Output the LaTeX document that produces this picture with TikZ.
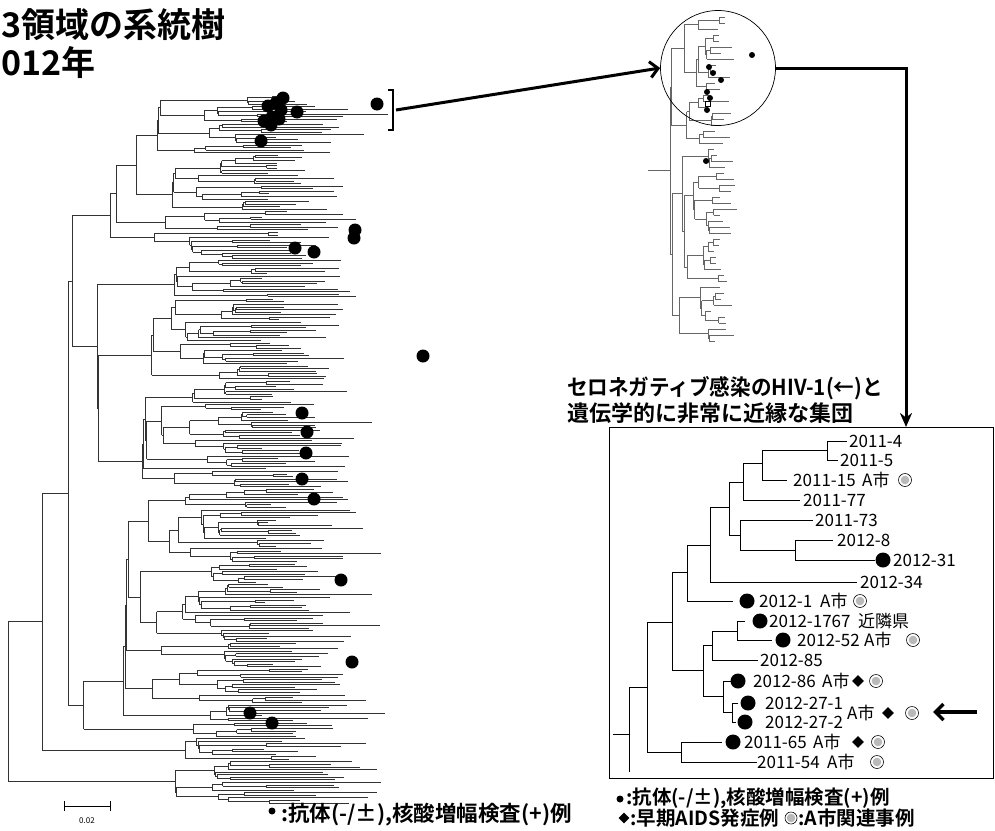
\documentclass[tikz,border=0pt]{standalone}
\usepackage{fontspec}
\setmainfont{Noto Sans CJK JP}[BoldFont={Noto Sans CJK JP Bold}]
\usetikzlibrary{arrows.meta,shapes.geometric}

\def\tcol{black!80}\def\tlw{0.42pt}
\def\ytop{96}\def\ystep{2.57}
\def\tipbase{255}\def\tipspread{90}\def\tipextra{50}\def\minleaf{10}
\def\xref{272}\def\clog{38}\def\noise{56}

\def\tnode#1#2#3{%
  \begingroup
  \ifnum#1=#2\relax
    \pgfmathsetmacro\ly{\ytop+#1*\ystep}%
    \pgfmathsetmacro\lx{max(#3+\minleaf,\tipbase+\tipspread*rnd+\tipextra*pow(rnd,4))}%
    \draw[treeline] (#3,\ly) -- (\lx,\ly);%
    \xdef\retY{\ly}%
  \else
    \pgfmathsetmacro\nx{max(#3+1.5,\xref-\clog*ln(#2-#1+1)+\noise*(rnd-0.5))}%
    \pgfmathtruncatemacro\spl{min(#2-1,#1+floor(rnd*(#2-#1)))}%
    \pgfmathtruncatemacro\splp{\spl+1}%
    \edef\tnnext{\noexpand\tnode{#1}{\spl}{\nx}}\tnnext
    \let\ya\retY
    \edef\tnnext{\noexpand\tnode{\splp}{#2}{\nx}}\tnnext
    \let\yb\retY
    \draw[treeline] (\nx,\ya) -- (\nx,\yb);%
    \pgfmathsetmacro\my{(\ya+\yb)/2}%
    \draw[treeline] (#3,\my) -- (\nx,\my);%
    \xdef\retY{\my}%
  \fi
  \endgroup}

\def\tpair#1#2#3#4{%
  \begingroup
  #3\let\ya\retY
  #4\let\yb\retY
  \draw[treeline] (#2,\ya) -- (#2,\yb);%
  \pgfmathsetmacro\my{(\ya+\yb)/2}%
  \draw[treeline] (#1,\my) -- (#2,\my);%
  \xdef\retY{\my}%
  \endgroup}

\def\tstem#1#2#3{\begingroup #3\draw[treeline] (#1,\retY) -- (#2,\retY);\endgroup}

\begin{document}
\begin{tikzpicture}[x=1pt,y=-1pt,
  treeline/.style={line width=\tlw,draw=\tcol},
  itree/.style={line width=0.8pt,draw=black},
  bigdot/.style={circle,fill=black,inner sep=0pt,minimum size=13pt},
  smalldot/.style={circle,fill=black,inner sep=0pt,minimum size=6pt},
  insetdot/.style={circle,fill=black,inner sep=0pt,minimum size=15pt},
  ring/.style={circle,draw=black,line width=0.6pt,fill=white,inner sep=0pt,minimum size=13pt,
    path picture={\fill[gray!55] (path picture bounding box.center) circle (4.3pt);}},
  diam/.style={diamond,fill=black,inner sep=0pt,minimum size=12pt},
  lab/.style={anchor=west,inner sep=0pt,font=\fontsize{17}{20}\selectfont},
  legend/.style={anchor=west,inner sep=0pt,font=\bfseries\fontsize{19.5}{22}\selectfont},
  thick arrow/.style={line width=3pt,draw=black}]
\useasboundingbox[fill=white] (0,0) rectangle (995,830);

% ---------- title ----------
\node[anchor=west,inner sep=0pt,font=\bfseries\fontsize{34}{38}\selectfont] (title1) at (1,25) {3領域の系統樹};
\node[anchor=west,inner sep=0pt,font=\bfseries\fontsize{34}{38}\selectfont] (title2) at (1,63) {012年};

% ---------- main tree ----------
\pgfmathsetseed{20120}
\tpair{8}{8}
 {\tpair{8}{42}{\tnode{0}{249}{42}}{\tstem{42}{110}{\tnode{250}{258}{110}}}}
 {\begingroup\def\tipbase{290}\def\tipextra{30}\tstem{8}{36}{\tnode{259}{275}{36}}\endgroup}

\foreach \x/\y [count=\i] in {377/104,268/106,276/103,281/110,272/117,264/121,271/125,279/119,
  283/98,297/112,261/141,355/230,354/238,295/248,314/252,423/356,302/413,307/432,306/453,
  302/479,314/499,341/580,352/662,250/713,272/723}
  \node[bigdot] (m\i) at (\x,\y) {};

% bracket and arrow to the zoomed circle
\draw[line width=2.5pt] (388,90) -- (393,90) -- (393,130) -- (388,130);
\coordinate (br) at (396,110);

% ---------- small tree ----------
\begingroup
\def\tcol{black!60}\def\tlw{0.4pt}
\def\ytop{17}\def\ystep{6}
\def\tipbase{698}\def\tipspread{38}\def\tipextra{8}\def\minleaf{6}
\def\xref{722}\def\clog{15}\def\noise{18}
\pgfmathsetseed{777}
\tnode{0}{54}{648}
\endgroup
\foreach \x/\y [count=\i] in {752/55,709/67,713/73,721/80,707/92,710/98,707/110,706/161}
  \node[smalldot] (s\i) at (\x,\y) {};
\node[draw,line width=0.6pt,fill=white,minimum size=5pt,inner sep=0pt] (sq) at (708,104) {};
\node[circle,draw,line width=0.7pt,minimum size=115pt,inner sep=0pt] (zoomc) at (718,68) {};

\draw[thick arrow,-{Straight Barb[length=8pt,width=16pt]}] (br) -- (zoomc.west);

% ---------- inset box ----------
\node[draw,line width=0.8pt,inner sep=0pt,minimum width=384pt,minimum height=351pt,anchor=north west] (box) at (609,427) {};
\coordinate (turn) at (906,68);
\coordinate (boxin) at (906,427);
\draw[thick arrow,-{Stealth[length=14pt,width=12pt]}] (zoomc.east) -- (turn) -- (boxin);

\node[anchor=west,inner sep=0pt,font=\bfseries\fontsize{22}{26}\selectfont] (cap1) at (567,388) {\scalebox{0.935}[1]{セロネガティブ感染のHIV-1(←)と}};
\node[anchor=west,inner sep=0pt,font=\bfseries\fontsize{22}{26}\selectfont] (cap2) at (567,413) {遺伝学的に非常に近縁な集団};

% inset tree
\draw[itree] (827,441) -- (847,441) (827,460) -- (838,460) (827,441) -- (827,460)
  (762,450) -- (827,450) (762,480) -- (787,480) (762,450) -- (762,480)
  (743,463) -- (762,463) (743,500) -- (800,500) (743,463) -- (743,500)
  (729,482) -- (743,482) (740,520) -- (813,520)
  (795,540) -- (833,540) (795,560) -- (875,560) (795,540) -- (795,560)
  (740,550) -- (795,550) (740,520) -- (740,550) (729,535) -- (740,535) (729,482) -- (729,535)
  (710,507) -- (729,507) (710,582) -- (857,582) (710,507) -- (710,582)
  (687,545) -- (710,545) (687,601) -- (733,601) (687,545) -- (687,601) (672,572) -- (687,572)
  (737,621) -- (745,621) (737,640) -- (772,640) (737,621) -- (737,640) (712,631) -- (737,631)
  (712,660) -- (758,660) (712,631) -- (712,660) (703,645) -- (712,645)
  (723,681) -- (733,681) (732,703) -- (738,703) (732,722) -- (736,722) (732,703) -- (732,722)
  (723,712) -- (732,712) (723,681) -- (723,712) (703,696) -- (723,696) (703,645) -- (703,696)
  (672,670) -- (703,670) (672,572) -- (672,670) (647,622) -- (672,622)
  (681,742) -- (722,742) (681,762) -- (757,762) (681,742) -- (681,762) (647,752) -- (681,752)
  (647,622) -- (647,752) (629,687) -- (647,687) (629,687) -- (629,772) (613,734) -- (629,734);

\foreach \x/\y/\n in {883/560/i31,747/601/i1,760/621/i1767,783/640/i52,738/681/i86,748/703/i271,745/722/i272,733/742/i65}
  \node[insetdot] (\n) at (\x,\y) {};

\node[lab] (l1) at (849,441) {2011-4};
\node[lab] (l2) at (840,460) {2011-5};
\node[lab] (l3) at (793,480) {2011-15};
\node[lab] (l3a) at (862,480) {A市};
\node[ring] (r3) at (905,480) {};
\node[lab] (l4) at (803,500) {2011-77};
\node[lab] (l5) at (815,520) {2011-73};
\node[lab] (l6) at (837,540) {2012-8};
\node[lab] (l7) at (893,560) {2012-31};
\node[lab] (l8) at (860,582) {2012-34};
\node[lab] (l9) at (759,601) {2012-1};
\node[lab] (l9a) at (820,601) {A市};
\node[ring] (r9) at (860,601) {};
\node[lab] (l10) at (769,621) {2012-1767};
\node[lab] (l10a) at (858,621) {近隣県};
\node[lab] (l11) at (797,640) {2012-52};
\node[lab] (l11a) at (864,640) {A市};
\node[ring] (r11) at (913,640) {};
\node[lab] (l12) at (760,660) {2012-85};
\node[lab] (l13) at (753,681) {2012-86};
\node[lab] (l13a) at (822,681) {A市};
\node[diam] (d13) at (858,681) {};
\node[ring] (r13) at (876,681) {};
\node[lab] (l14) at (765,703) {2012-27-1};
\node[lab] (l15) at (765,722) {2012-27-2};
\node[lab] (l15a) at (847,713) {A市};
\node[diam] (d15) at (888,713) {};
\node[ring] (r15) at (912,713) {};
\node[lab] (l16) at (744,742) {2011-65};
\node[lab] (l16a) at (813,742) {A市};
\node[diam] (d16) at (858,742) {};
\node[ring] (r16) at (878,742) {};
\node[lab] (l17) at (757,762) {2011-54};
\node[lab] (l17a) at (827,762) {A市};
\node[ring] (r17) at (877,762) {};

\coordinate (pa) at (977,712);
\coordinate (pb) at (933,712);
\draw[line width=3.5pt,-{Straight Barb[length=8pt,width=16pt]}] (pa) -- (pb);

% ---------- legends ----------
\node[circle,fill=black,inner sep=0pt,minimum size=7pt] (lgd1) at (620,799) {};
\node[legend] (lgt1) at (626,798) {:抗体(-/±),核酸増幅検査(+)例};
\node[diam,minimum size=11pt] (lgd2) at (624,818) {};
\node[legend] (lgt2) at (630,818) {:早期AIDS発症例};
\node[ring,minimum size=12pt] (lgd3) at (791,818) {};
\node[legend] (lgt3) at (798,818) {:A市関連事例};

\node[circle,fill=black,inner sep=0pt,minimum size=7pt] (lgm) at (272,811) {};
\node[legend,font=\bfseries\fontsize{21.5}{24}\selectfont] (lgmt) at (281,815) {:抗体(-/±),核酸増幅検査(+)例};

% scale bar
\coordinate (sb1) at (64,806);
\coordinate (sb2) at (110,806);
\draw[line width=0.7pt] (sb1) -- (sb2) (64,801) -- (64,811) (110,801) -- (110,811);
\node[inner sep=0pt,font=\fontsize{8}{9}\selectfont] (sbl) at (87,821) {0.02};
\end{tikzpicture}
\end{document}
